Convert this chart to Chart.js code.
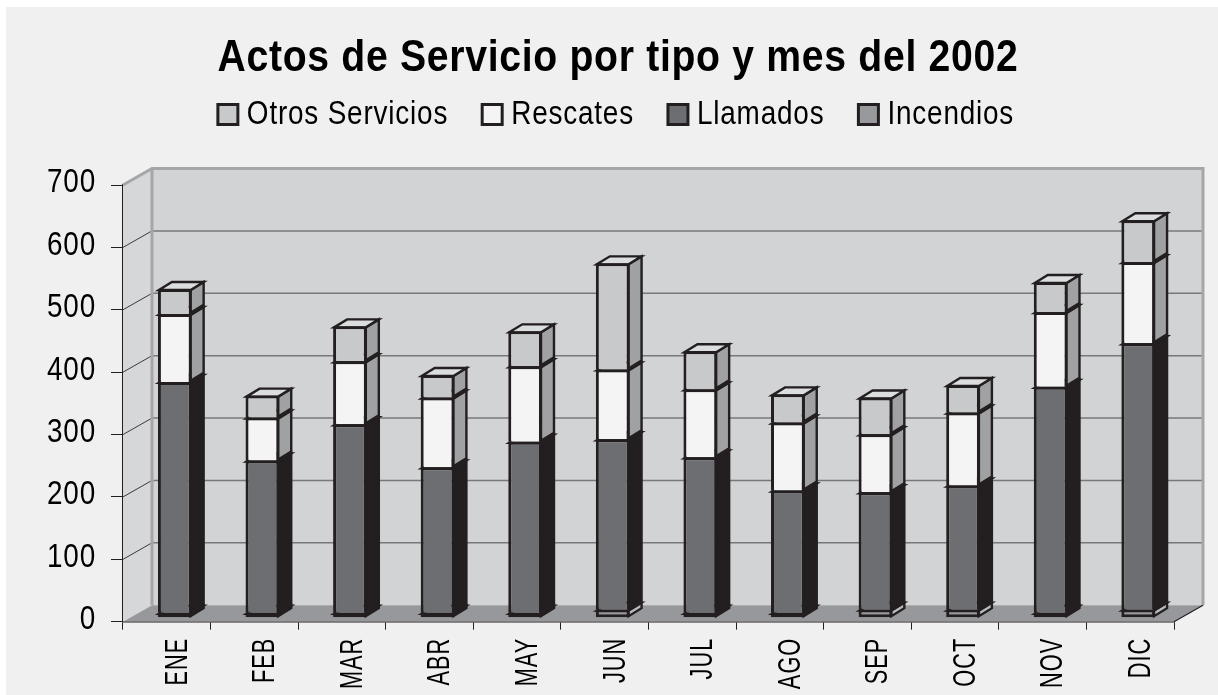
<!DOCTYPE html>
<html><head><meta charset="utf-8">
<style>html,body{margin:0;padding:0;background:#fff}canvas{display:block}</style>
<script src="https://cdn.jsdelivr.net/npm/chart.js@4"></script></head>
<body><canvas id="c" width="1218" height="695"></canvas>
<script>
const months=['ENE','FEB','MAR','ABR','MAY','JUN','JUL','AGO','SEP','OCT','NOV','DIC'];
const incendios=[8,8,8,8,8,13,8,8,13,13,8,13];
const llamados=[370,244,302,233,274,273,249,196,188,199,362,427];
const rescates=[109,69,101,112,121,112,109,109,93,117,120,130];
const otros=[40,35,56,36,56,170,61,45,59,44,48,67];
const yTicks=[0,100,200,300,400,500,600,700];
const seriesNames=['Incendios','Llamados','Rescates','Otros Servicios'];
const INK='#231f20';
const FONT='"Liberation Sans",sans-serif';
const BACK={dx:29,dy:-16.5}, BAR={dx:8,dy:-4}, DEPTH={dx:13,dy:-8};

// No condensed face is installed, so squeeze real text horizontally on this canvas.
const canvas=document.getElementById('c'), g=canvas.getContext('2d');
const rawFill=g.fillText.bind(g), rawMeasure=g.measureText.bind(g);
function look(){const f=g.font;
 if(f.includes('bold'))return{sx:.87,ls:.8,shift:2};
 if(f.includes('32px'))return{sx:.68,ls:1.5,shift:0};
 return{sx:.82,ls:1,shift:0};}
g.measureText=function(t){const k=look();g.letterSpacing=k.ls+'px';const w=rawMeasure(t).width;g.letterSpacing='0px';return{width:w*k.sx};};
g.fillText=function(t,x,y,m){const k=look();g.save();g.letterSpacing=k.ls+'px';
 const shift=k.shift+(seriesNames.includes(t)?8:0);
 g.translate(x-shift,y);g.scale(k.sx,1);rawFill(t,0,0);g.restore();};

function poly(ctx,pts,fill,stroke,lw){ctx.beginPath();pts.forEach((p,i)=>i?ctx.lineTo(p[0],p[1]):ctx.moveTo(p[0],p[1]));ctx.closePath();
 if(fill){ctx.fillStyle=fill;ctx.fill();} if(stroke){ctx.strokeStyle=stroke;ctx.lineWidth=lw;ctx.lineJoin='miter';ctx.stroke();}}
const spacer={id:'spacer',beforeInit(ch){Chart.layouts.addBox(ch,{position:'top',weight:0,fullSize:true,options:{},isHorizontal(){return true;},
  update(w,h){this.width=w;this.height=43.4;},draw(){}});},
  afterLayout(ch){ch.scales.y.left=0;}};
const scene={id:'scene',
 beforeDraw(ch){const c=ch.ctx;c.save();c.fillStyle='#fff';c.fillRect(0,0,1218,695);c.fillStyle='#f0f0f0';c.fillRect(6,7,1212,688);c.restore();},
 beforeDatasetsDraw(ch){
  const c=ch.ctx,a=ch.chartArea,y=ch.scales.y;c.save();
  const l=a.left,r=a.right,t=y.getPixelForValue(700),b=y.getPixelForValue(0),dx=BACK.dx,dy=BACK.dy;
  poly(c,[[l+dx,t+dy],[r+dx,t+dy],[r+dx,b+dy],[l+dx,b+dy]],'#d2d3d5');
  poly(c,[[l,t],[l+dx,t+dy],[l+dx,b+dy],[l,b]],'#d6d7d9');
  yTicks.forEach(v=>{if(v===0||v===700)return;const p=y.getPixelForValue(v);
    c.strokeStyle='#77787b';c.lineWidth=1.5;c.beginPath();c.moveTo(l+dx,p+dy);c.lineTo(r+dx,p+dy);c.stroke();
    c.strokeStyle='#3a3a3c';c.lineWidth=1;c.beginPath();c.moveTo(l,p);c.lineTo(l+dx,p+dy);c.stroke();});
  c.strokeStyle='#a5a6a8';c.lineWidth=3;c.beginPath();c.moveTo(l,t);c.lineTo(l+dx,t+dy);c.lineTo(r+dx,t+dy);c.lineTo(r+dx,b+dy);c.moveTo(l+dx,t+dy);c.lineTo(l+dx,b+dy);c.stroke();
  poly(c,[[l,b],[l+dx,b+dy],[r+dx,b+dy],[r,b]],'#97989b');
  c.strokeStyle=INK;c.lineWidth=1.2;c.beginPath();c.moveTo(r,b);c.lineTo(r+dx,b+dy);c.stroke();
  // depth faces of every bar segment, built from the elements the library laid out
  const sides=['#b9babc',INK,'#a0a1a3','#a0a1a3'],tops=['#d5d6d8','#6d6e71','#f4f4f4','#dcdddf'];
  const n=ch.data.datasets.length;
  for(let i=0;i<n;i++){ch.getDatasetMeta(i).data.forEach((el)=>{
    const p=el.getProps(['x','y','base','width'],false),x1=p.x+p.width/2+BAR.dx-1,x0=p.x-p.width/2+BAR.dx+1,top=p.y+BAR.dy+1,bot=p.base+BAR.dy-1;
    poly(c,[[x1,top],[x1+DEPTH.dx,top+DEPTH.dy],[x1+DEPTH.dx,bot+DEPTH.dy],[x1,bot]],sides[i],INK,2.4);
    poly(c,[[x0,top],[x0+DEPTH.dx,top+DEPTH.dy],[x1+DEPTH.dx,top+DEPTH.dy],[x1,top]],tops[i],INK,2.4);
  });}
  c.restore();c.save();c.translate(BAR.dx,BAR.dy);
 },
 afterDatasetsDraw(ch){ch.ctx.restore();}
};
const common={borderColor:INK,borderSkipped:false,categoryPercentage:1,barPercentage:0.385};
const upperBorder={left:3,right:3,top:3,bottom:0};
new Chart(canvas,{
 type:'bar',
 data:{labels:months,datasets:[
  {label:seriesNames[0],data:incendios,backgroundColor:'#98999c',borderWidth:{left:3,right:3,top:3,bottom:3},...common},
  {label:seriesNames[1],data:llamados,backgroundColor:'#6d6e71',borderWidth:upperBorder,...common},
  {label:seriesNames[2],data:rescates,backgroundColor:'#f4f4f4',borderWidth:upperBorder,...common},
  {label:seriesNames[3],data:otros,backgroundColor:'#c8c9cb',borderWidth:upperBorder,...common}]},
 options:{responsive:false,animation:false,
  layout:{padding:{left:66,right:44,top:8,bottom:0}},
  plugins:{
   title:{display:true,text:'Actos de Servicio por tipo y mes del 2002',color:'#000',font:{family:FONT,size:45,weight:'bold'},padding:{top:24,bottom:-14.4}},
   legend:{position:'top',reverse:true,labels:{color:'#000',font:{family:FONT,size:34},boxWidth:20,boxHeight:20,padding:26,
     generateLabels(ch){const items=Chart.defaults.plugins.legend.labels.generateLabels(ch);items.forEach(it=>{it.lineWidth=3;});return items;}}},
   tooltip:{enabled:false}},
  scales:{
   x:{stacked:true,offset:true,
      afterFit(s){s.height=73.3;},
      grid:{drawOnChartArea:false,color:INK,tickLength:8,offset:true},border:{color:INK,width:1.5},
      ticks:{color:'#000',font:{family:FONT,size:32},maxRotation:90,minRotation:90,padding:8,labelOffset:11,autoSkip:false}},
   y:{stacked:true,min:0,max:700,
      afterFit(s){s.width=57;},
      afterBuildTicks(s){s.ticks=yTicks.map(v=>({value:v}));},
      grid:{drawOnChartArea:false,color:INK,tickLength:12},border:{color:INK,width:1.5},
      ticks:{color:'#000',font:{family:FONT,size:34},padding:15,labelOffset:-2}}
  }},
 plugins:[spacer,scene]
});
</script></body></html>
